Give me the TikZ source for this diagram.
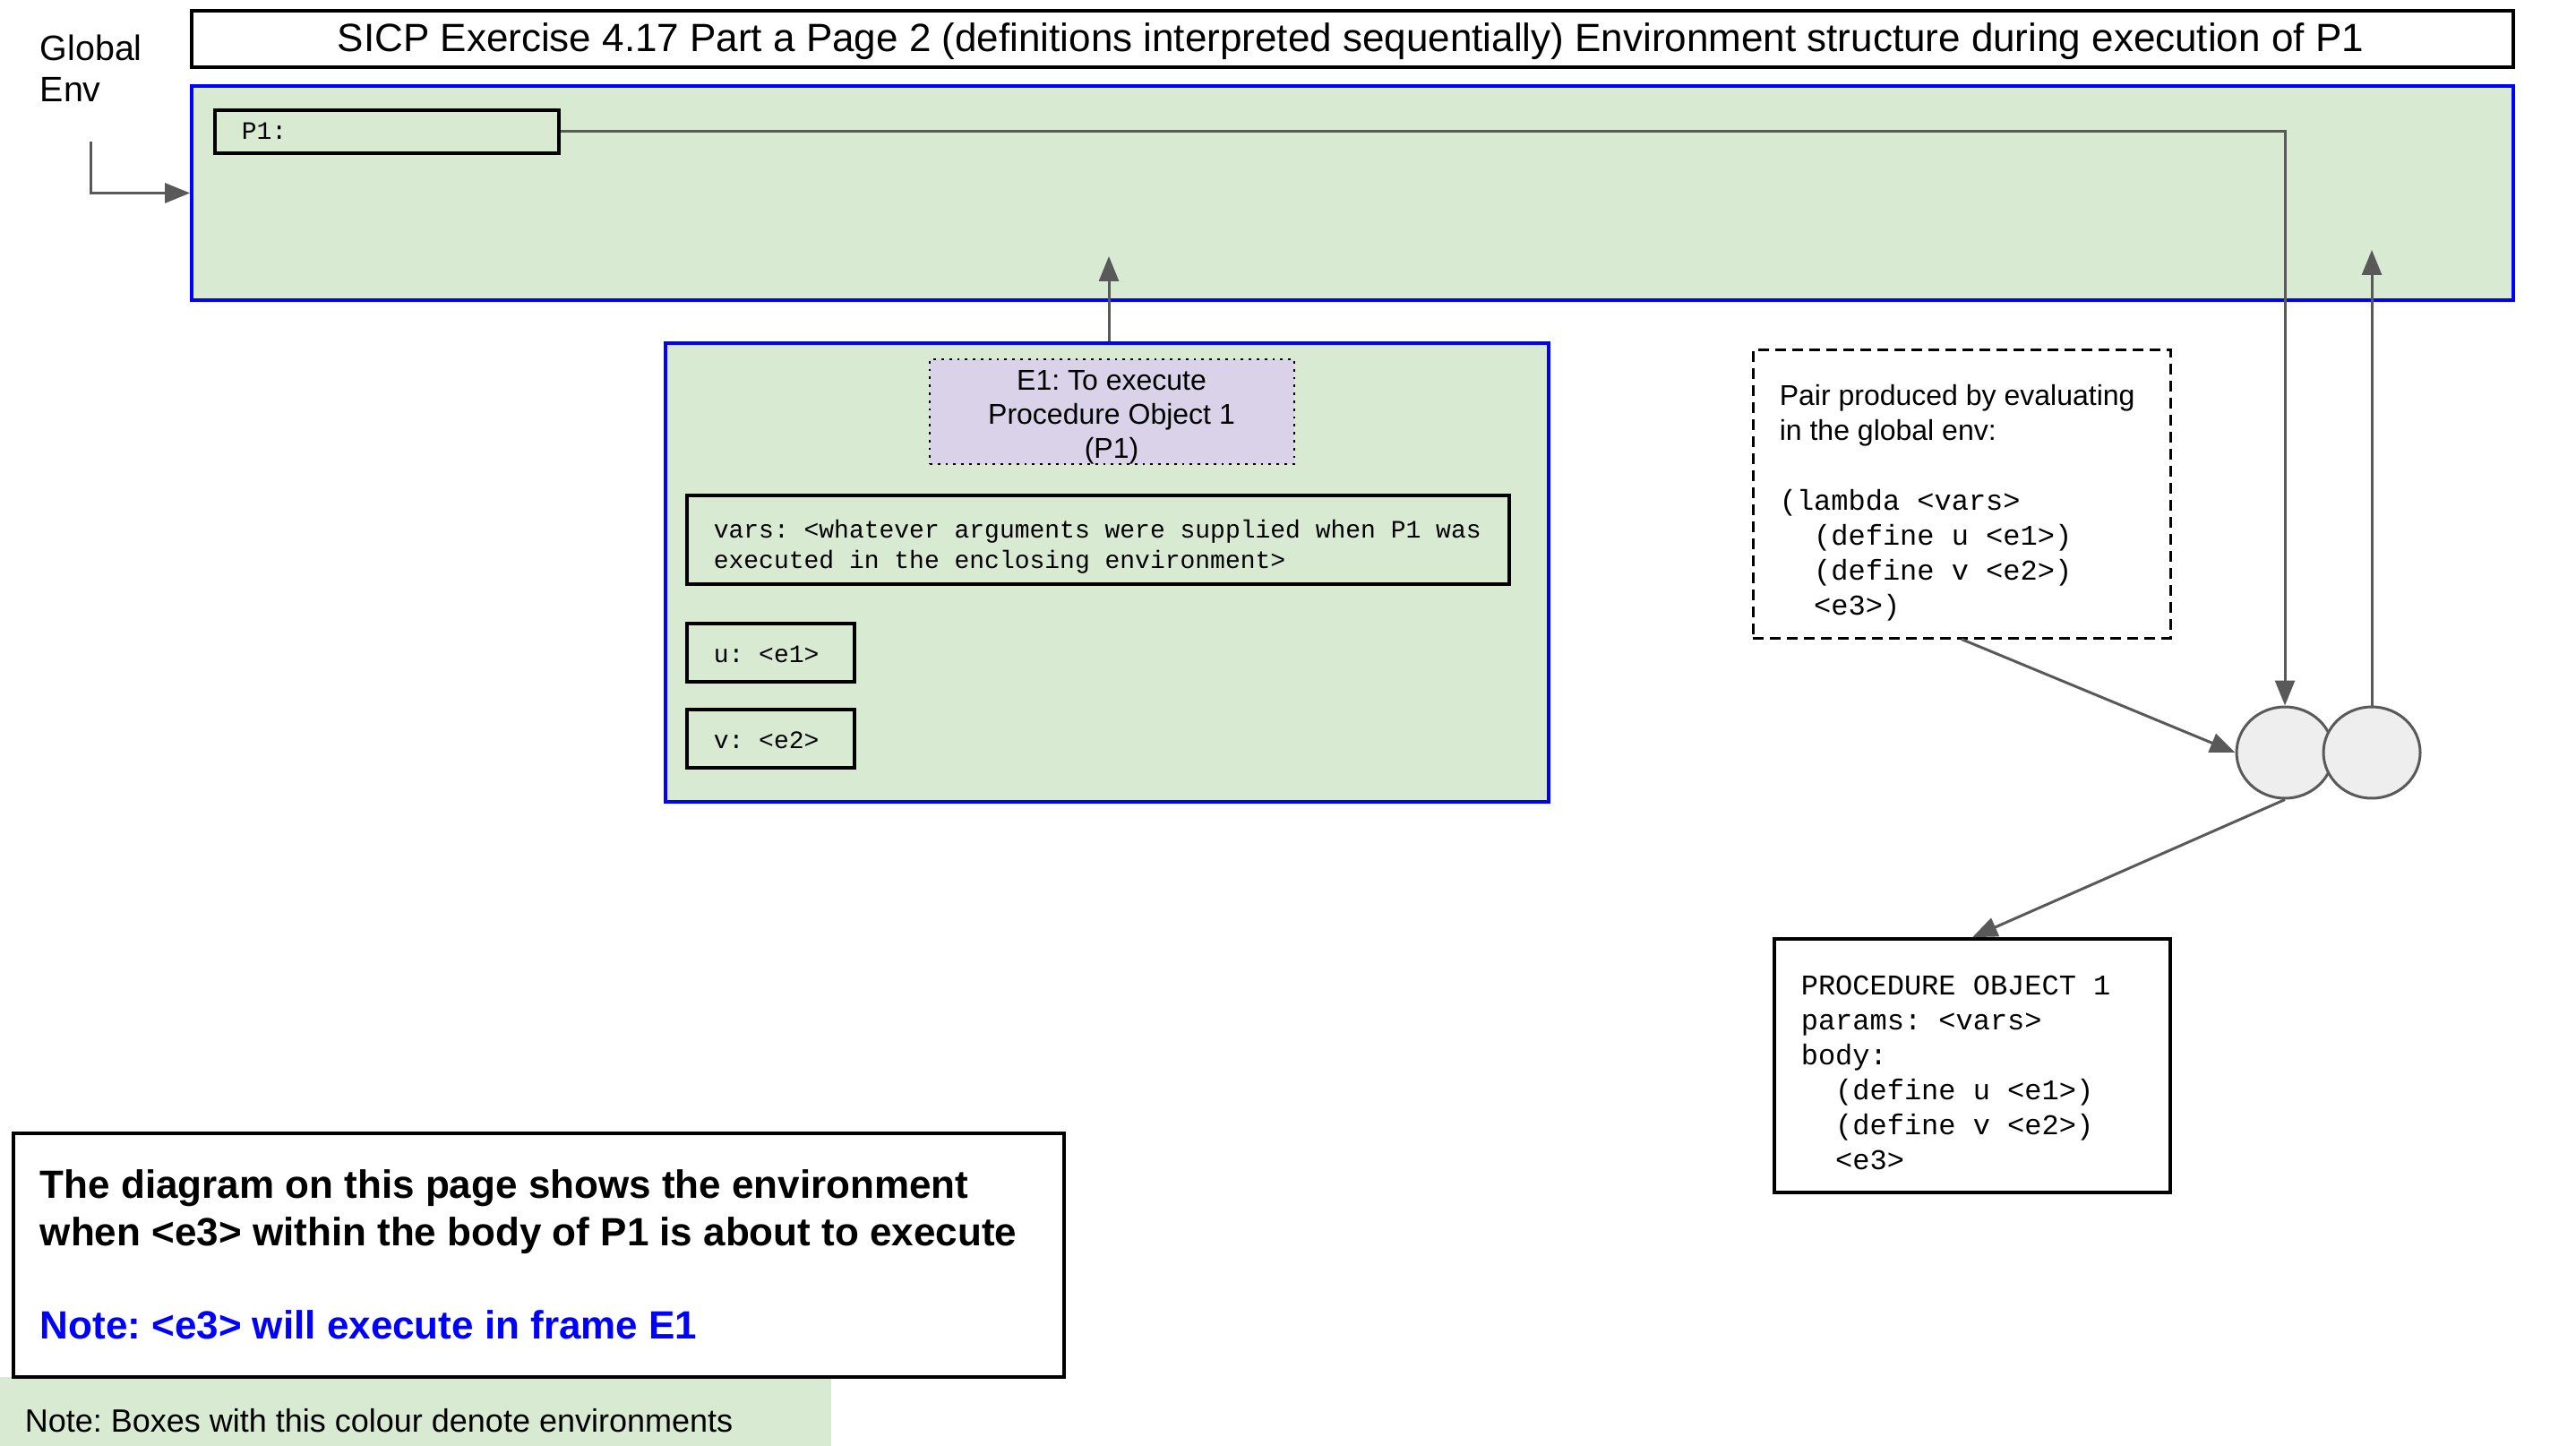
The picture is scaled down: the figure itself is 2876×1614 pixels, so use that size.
\documentclass[tikz,border=0pt]{standalone}
\usepackage{fontspec}
\setmainfont{Liberation Sans}
\setmonofont{Liberation Mono}
\usetikzlibrary{arrows.meta,shapes.geometric,fit}
\definecolor{envgreen}{HTML}{D9EAD3}
\definecolor{envblue}{HTML}{0000FF}
\definecolor{lav}{HTML}{D9D2E9}
\definecolor{conngray}{HTML}{595959}
\definecolor{pairfill}{HTML}{EEEEEE}
\newcommand{\myind}{\hphantom{xx}}
\tikzset{
  envbox/.style={draw=envblue, fill=envgreen, line width=0.9pt, inner sep=0pt},
  varbox/.style={draw=black, line width=1pt, inner sep=0pt},
  plainbox/.style={draw=black, line width=0.9pt, fill=white, inner sep=0pt},
  conn/.style={draw=conngray, line width=0.75pt},
  arr/.style={conn, -{Triangle[length=7pt,width=5.5pt]}},
  pairc/.style={ellipse, draw=conngray, fill=pairfill, line width=0.75pt,
    minimum width=27pt, minimum height=25.5pt, inner sep=0pt},
  txt/.style={inner sep=0pt},
  monosmall/.style={txt, font=\fontsize{7}{8.5}\selectfont\ttfamily},
}
\begin{document}
\frenchspacing
\begin{tikzpicture}[x=0.25pt,y=-0.25pt]
\useasboundingbox (0,0) rectangle (2876,1614);

% title
\node[plainbox, fit={(214,12) (2806,75)}] (titlebox) {};
\node[txt, anchor=base, font=\fontsize{11}{13}\selectfont] (title) at (1508,58)
  {SICP Exercise 4.17 Part a Page 2 (definitions interpreted sequentially) Environment structure during execution of P1};

% global env label
\node[txt, anchor=north west, align=left, font=\fontsize{9.85}{11.5}\selectfont] (glabel) at (44,38) {Global\\Env};

% global environment
\node[envbox, fit={(214,96) (2806,335)}] (genv) {};
\node[varbox, fit={(240,123) (624,171)}] (p1) {};
\node[monosmall, anchor=base west] (p1txt) at (269,156) {P1:};

% E1 environment
\node[envbox, fit={(743,383) (1729,895)}] (e1) {};
\node[fit={(1038,401) (1445,518)}, draw=black, fill=lav, line width=0.7pt,
  dash pattern=on 0.7pt off 1.5pt, inner sep=0pt] (e1lbl) {};
\node[txt, anchor=north, align=center, font=\fontsize{8}{9.5}\selectfont] (e1txt) at (1241,413)
  {E1: To execute\\Procedure Object 1\\(P1)};
\node[varbox, fit={(767,553) (1685,652)}] (varsbox) {};
\node[monosmall, anchor=north west, align=left] (varstxt) at (796,579)
  {vars: <whatever arguments were supplied when P1 was\\executed in the enclosing environment>};
\node[varbox, fit={(767,696) (954,761)}] (ubox) {};
\node[monosmall, anchor=base west] (utxt) at (796,739) {u: <e1>};
\node[varbox, fit={(767,792) (954,857)}] (vbox) {};
\node[monosmall, anchor=base west] (vtxt) at (796,835) {v: <e2>};

% lambda pair text
\node[fit={(1957,391) (2423,712)}, draw=black, line width=0.75pt,
  dash pattern=on 3pt off 1.75pt, inner sep=0pt] (lam) {};
\node[txt, anchor=north west, align=left, font=\fontsize{8}{9.75}\selectfont] (lamtxt) at (1986,429)
  {Pair produced by evaluating\\in the global env:\\[9.75pt]
   {\ttfamily (lambda <vars>}\\
   {\ttfamily\myind(define u <e1>)}\\
   {\ttfamily\myind(define v <e2>)}\\
   {\ttfamily\myind<e3>)}};

% procedure object
\node[varbox, line width=0.9pt, fit={(1981,1048) (2423,1331)}] (proc) {};
\node[txt, anchor=north west, align=left, font=\fontsize{8}{9.75}\selectfont\ttfamily] (proctxt) at (2010,1088)
  {PROCEDURE OBJECT 1\\params: <vars>\\body:\\\myind(define u <e1>)\\\myind(define v <e2>)\\\myind<e3>};

% pair
\node[pairc] (pairL) at (2551,840) {};
\node[pairc] (pairR) at (2648,840) {};

% legend
\node[fit={(0,1537) (928,1614)}, fill=envgreen, inner sep=0pt] (legend) {};
\node[txt, anchor=base west, font=\fontsize{9}{11}\selectfont] (legendtxt) at (27,1598)
  {Note: Boxes with this colour denote environments};

% explanation
\node[plainbox, fit={(15,1265) (1188,1537)}] (expl) {};
\node[txt, anchor=north west, align=left, font=\bfseries\fontsize{11}{13.1}\selectfont] (expltxt) at (44,1305)
  {The diagram on this page shows the environment\\when <e3> within the body of P1 is about to execute\\[13.1pt]
   \textcolor{envblue}{Note: <e3> will execute in frame E1}};

% connectors
\coordinate (gstart) at (101,158);
\draw[arr] (gstart) |- (genv.west);
\draw[arr] (p1.east) -| (pairL.north);
\coordinate (upend) at (2648,279);
\draw[arr] (pairR.north) -- (upend);
\coordinate (e1up) at (1238,286);
\draw[arr] (e1up |- e1.north) -- (e1up);
\draw[arr] (lam.south) -- (pairL.west);
\draw[arr] (pairL.south) -- (proc.north);
\end{tikzpicture}
\end{document}
